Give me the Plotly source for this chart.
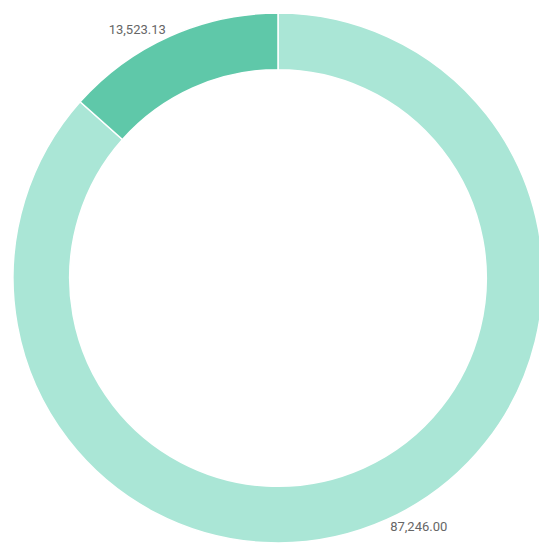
import plotly.graph_objects as go

labels = ["Segment B", "Segment A"]
values = [87246.00, 13523.13]
colors = ["#aae6d6", "#5fc8a9"]

fig = go.Figure(go.Pie(
    labels=labels,
    values=values,
    hole=0.786,
    sort=False,
    direction="clockwise",
    rotation=0,
    marker=dict(colors=colors, line=dict(color="white", width=1.5)),
    textinfo="value",
    texttemplate="%{value:,.2f}",
    textposition="outside",
    textfont=dict(family="Roboto", size=13, color="#666666"),
    showlegend=False,
    hoverinfo="label+value",
))
fig.update_layout(
    width=547, height=545,
    margin=dict(l=0, r=12, t=0, b=10),
    paper_bgcolor="white",
    plot_bgcolor="white",
)
fig.write_html("out.html")
